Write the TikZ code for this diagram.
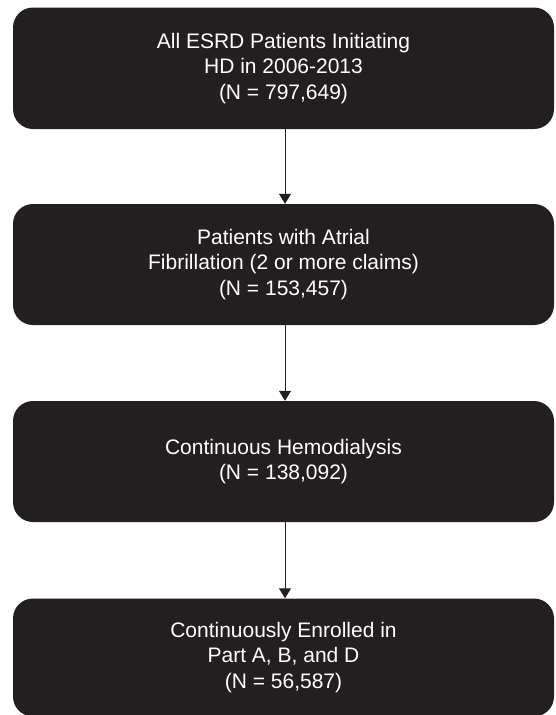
\documentclass[tikz,border=0pt]{standalone}
\usepackage{fontspec}
\setmainfont{Liberation Sans}
\usetikzlibrary{arrows.meta}
\definecolor{boxfill}{RGB}{35,31,32}
\begin{document}
\begin{tikzpicture}[x=1pt,y=1pt,
  flowbox/.style={fill=boxfill, draw=none, rounded corners=20pt, text=white,
    minimum width=541pt, align=center, inner sep=0pt,
    font=\fontsize{21}{25.5}\selectfont},
  flowarrow/.style={draw=boxfill, line width=1pt, -{Triangle[length=10pt,width=12pt]}}]
\useasboundingbox (0,0) rectangle (555,-715);
\node[flowbox, minimum height=121.5pt] (b1) at (283.5,-68.25) {All ESRD Patients Initiating\\HD in 2006-2013\\(N = 797,649)};
\node[flowbox, minimum height=121pt] (b2) at (283.5,-264.5) {Patients with Atrial\\Fibrillation (2 or more claims)\\(N = 153,457)};
\node[flowbox, minimum height=121pt] (b3) at (283.5,-461.5) {Continuous Hemodialysis\\(N = 138,092)};
\node[flowbox, minimum height=118pt] (b4) at (283.5,-657.5) {Continuously Enrolled in\\Part A, B, and D\\(N = 56,587)};
\draw[flowarrow] (b1.south -| 285,0) -- (b2.north -| 285,0);
\draw[flowarrow] (b2.south -| 285,0) -- (b3.north -| 285,0);
\draw[flowarrow] (b3.south -| 285,0) -- (b4.north -| 285,0);
\end{tikzpicture}
\end{document}
